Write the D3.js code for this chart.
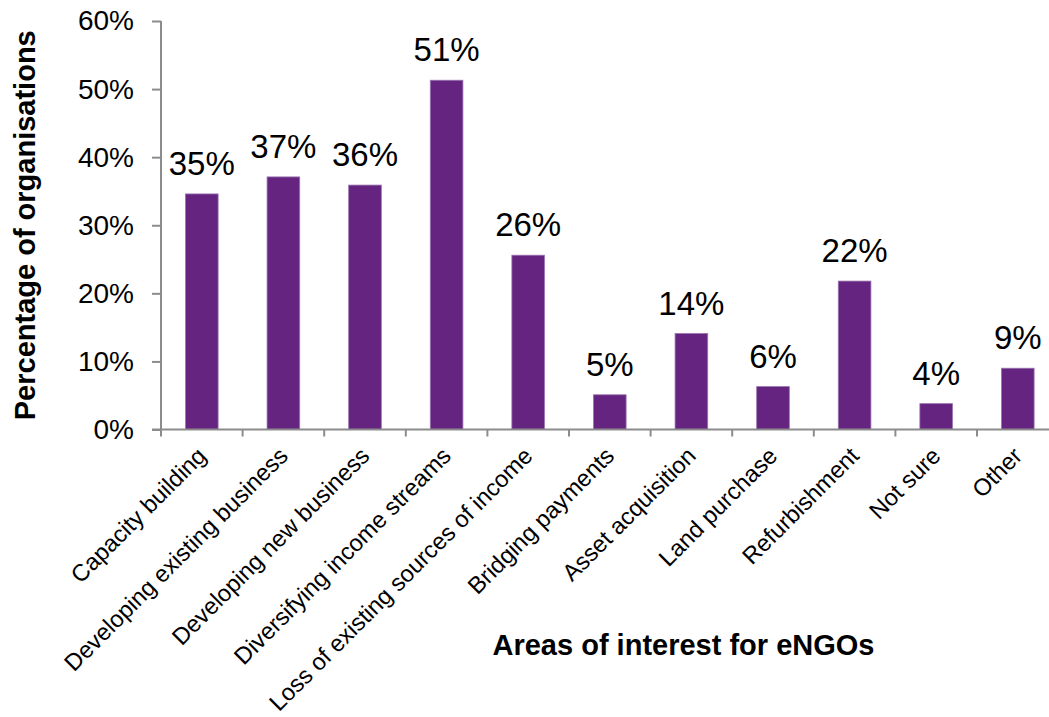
<!DOCTYPE html>
<html>
<head>
<meta charset="utf-8">
<script src="https://cdn.jsdelivr.net/npm/d3@7/dist/d3.min.js"></script>
<style>
  html, body { margin: 0; padding: 0; background: #fff; }
  svg { display: block; font-family: "Liberation Sans", Arial, sans-serif; }
</style>
</head>
<body>
<svg id="chart" width="1049" height="717"></svg>
<script>
// Areas of interest reported by eNGOs (share of organisations)
const categories = [
  "Capacity building",
  "Developing existing business",
  "Developing new business",
  "Diversifying income streams",
  "Loss of existing sources of income",
  "Bridging payments",
  "Asset acquisition",
  "Land purchase",
  "Refurbishment",
  "Not sure",
  "Other"
];
const shares = [0.346, 0.371, 0.359, 0.513, 0.256, 0.051, 0.141, 0.063, 0.218, 0.038, 0.090];
const yTicks = [0, 0.1, 0.2, 0.3, 0.4, 0.5, 0.6];

const svg = d3.select("#chart");
const x0 = 161, x1 = 1058.6, yBottom = 429.5, yTop = 21;

const x = d3.scaleBand()
  .domain(categories)
  .range([x0, x1])
  .paddingInner(0.6)
  .paddingOuter(0.3);

const y = d3.scaleLinear()
  .domain([0, 0.6])
  .range([yBottom, yTop]);

const pct = d3.format(".0%");
const axisColor = "#8c8c8c";

// Bars
svg.append("g")
  .selectAll("rect")
  .data(shares)
  .join("rect")
  .attr("x", (d, i) => x(categories[i]))
  .attr("y", d => y(d))
  .attr("width", x.bandwidth())
  .attr("height", d => yBottom - y(d))
  .attr("fill", "#652480")
  .attr("stroke", "#9a74b0")
  .attr("stroke-width", 0.8);

// Y axis
const yAxis = svg.append("g")
  .attr("transform", `translate(${x0},0)`)
  .call(d3.axisLeft(y).tickValues(yTicks).tickFormat(pct).tickSize(9).tickPadding(18));
yAxis.select(".domain").attr("stroke", axisColor).attr("stroke-width", 2)
  .attr("d", `M0,${yTop}V${yBottom}`);
yAxis.selectAll(".tick line").attr("stroke", axisColor).attr("stroke-width", 2);
yAxis.selectAll(".tick text")
  .attr("fill", "#000")
  .style("font-size", "28px")
  .style("font-family", "Liberation Sans, Arial, sans-serif");

// X axis with boundary ticks between categories
const boundaries = d3.range(categories.length + 1).map(i => x0 + i * x.step());
const xAxisG = svg.append("g");
xAxisG.append("line")
  .attr("x1", x0 - 9).attr("x2", x1)
  .attr("y1", yBottom).attr("y2", yBottom)
  .attr("stroke", axisColor).attr("stroke-width", 2);
xAxisG.selectAll("line.tick")
  .data(boundaries)
  .join("line")
  .attr("class", "tick")
  .attr("x1", d => d).attr("x2", d => d)
  .attr("y1", yBottom).attr("y2", yBottom + 7)
  .attr("stroke", axisColor).attr("stroke-width", 2);

// Category labels, rotated
svg.append("g")
  .selectAll("text")
  .data(categories)
  .join("text")
  .attr("transform", d => `translate(${x(d) + x.bandwidth() / 2},${yBottom + 22}) rotate(-45)`)
  .attr("text-anchor", "end")
  .attr("dy", "0.35em")
  .style("font-size", "23.6px")
  .attr("fill", "#000")
  .text(d => d);

// Value labels above bars
svg.append("g")
  .selectAll("text")
  .data(shares)
  .join("text")
  .attr("x", (d, i) => x(categories[i]) + x.bandwidth() / 2)
  .attr("y", d => y(d) - 19)
  .attr("text-anchor", "middle")
  .style("font-size", "33px")
  .attr("fill", "#000")
  .text(d => pct(d));

// Axis titles
svg.append("text")
  .attr("transform", `translate(35,${(yTop + yBottom) / 2}) rotate(-90)`)
  .attr("text-anchor", "middle")
  .style("font-size", "29px")
  .style("font-weight", "bold")
  .text("Percentage of organisations");

svg.append("text")
  .attr("x", 683.5)
  .attr("y", 655)
  .attr("text-anchor", "middle")
  .style("font-size", "29px")
  .style("font-weight", "bold")
  .text("Areas of interest for eNGOs");
</script>
</body>
</html>
